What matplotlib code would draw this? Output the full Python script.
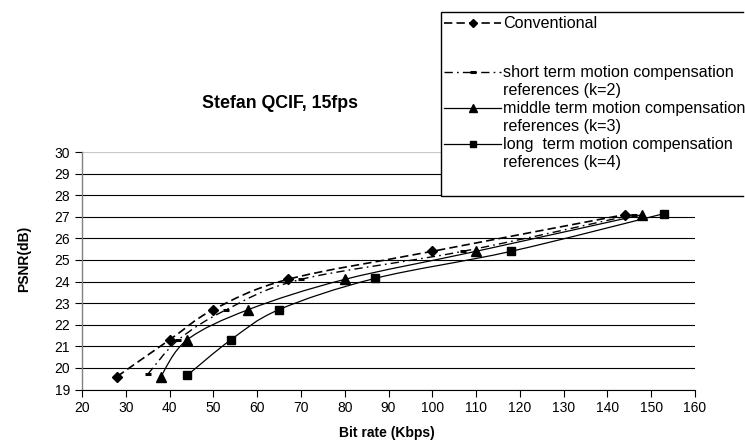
import numpy as np
import matplotlib
matplotlib.use('Agg')
import matplotlib.pyplot as plt
from matplotlib.path import Path
from matplotlib.patches import PathPatch, Rectangle

plt.rcParams['font.family'] = ['Liberation Sans', 'DejaVu Sans']
plt.rcParams['lines.scale_dashes'] = False

#%% data
conv_x = [28, 40, 50, 67, 100, 144]
conv_y = [19.6, 21.3, 22.7, 24.1, 25.4, 27.1]
short_x = [35, 42, 53, 70, 107, 146]
short_y = [19.7, 21.3, 22.7, 24.1, 25.4, 27.1]
mid_x = [38, 44, 58, 80, 110, 148]
mid_y = [19.6, 21.3, 22.7, 24.1, 25.4, 27.1]
long_x = [44, 54, 65, 87, 118, 153]
long_y = [19.65, 21.3, 22.7, 24.15, 25.4, 27.15]

labels = ['Conventional',
          'short term motion compensation\nreferences (k=2)',
          'middle term motion compensation\nreferences (k=3)',
          'long  term motion compensation\nreferences (k=4)']
xticks = np.arange(20, 161, 10)
yticks = np.arange(19, 31, 1)

dash_conv = (0, (6, 3))
dash_short = (0, (6, 3, 1.2, 3))


def smooth_path(xs, ys):
    # excel-like smoothed line through the points (bezier segments)
    pts = np.column_stack([xs, ys]).astype(float)
    n = len(pts)
    verts = [pts[0]]
    codes = [Path.MOVETO]
    for i in range(n - 1):
        p0 = pts[max(i - 1, 0)]
        p1 = pts[i]
        p2 = pts[i + 1]
        p3 = pts[min(i + 2, n - 1)]
        verts += [p1 + (p2 - p0) / 6, p2 - (p3 - p1) / 6, p2]
        codes += [Path.CURVE4] * 3
    return Path(verts, codes)


W, H = 745, 446
fig = plt.figure(figsize=(W / 100, H / 100), dpi=100)
ax = fig.add_axes([82 / W, 1 - 389.5 / H, (695 - 82) / W, (389.5 - 152) / H])

series = [(conv_x, conv_y, dash_conv, 1.2, 'D', 5.5),
          (short_x, short_y, dash_short, 1.0, '_', 5),
          (mid_x, mid_y, '-', 0.9, '^', 7),
          (long_x, long_y, '-', 0.9, 's', 5.5)]

for xs, ys, ls, lw, mk, ms in series:
    ax.add_patch(PathPatch(smooth_path(xs, ys), fill=False, edgecolor='black',
                           linestyle=ls, linewidth=lw, zorder=3))
    if mk == '_':
        ax.plot(xs, ys, linestyle='none', marker=mk, ms=ms, mew=2.2, color='black', zorder=4)
    else:
        ax.plot(xs, ys, linestyle='none', marker=mk, ms=ms, color='black', zorder=4)

ax.set_xlim(20, 160)
ax.set_ylim(19, 30)
ax.set_xticks(xticks)
ax.set_yticks(yticks)
ax.tick_params(labelsize=10, length=5, width=0.8, colors='black')
ax.yaxis.grid(True, color='black', linewidth=0.8)
ax.get_ygridlines()[-1].set_color('#c8c8c8')
ax.set_axisbelow(True)
for s in ['top', 'right']:
    ax.spines[s].set_visible(False)
ax.spines['left'].set_color('#808080')
ax.spines['bottom'].set_color('black')
ax.spines['left'].set_linewidth(1.0)
ax.spines['bottom'].set_linewidth(0.8)

#%% overlay in pixel coordinates: titles and legend
ov = fig.add_axes([0, 0, 1, 1])
ov.set_xlim(0, W)
ov.set_ylim(H, 0)
ov.axis('off')

ov.text(280, 103, 'Stefan QCIF, 15fps', ha='center', va='center', fontsize=12.8, fontweight='bold')
ov.text(387, 433, 'Bit rate (Kbps)', ha='center', va='center', fontsize=10, fontweight='bold')
ov.text(24, 259, 'PSNR(dB)', ha='center', va='center', fontsize=10, fontweight='bold', rotation=90)

# legend box: open on the right, it runs off the figure in the reference
ov.add_patch(Rectangle((441, 12), W - 441, 184, facecolor='white', edgecolor='none', zorder=5))
ov.plot([W - 2, 441, 441, W - 2], [12, 12, 196, 196], color='black', linewidth=1.0,
        solid_joinstyle='miter', zorder=6)

leg_y = [23, 72, 108, 144]
leg_ms = [4.5, 4, 5.5, 4.5]
for (xs, ys, ls, lw, mk, ms), lab, yy, lms in zip(series, labels, leg_y, leg_ms):
    ov.plot([444, 501], [yy, yy], linestyle=ls, linewidth=lw, color='black', zorder=6)
    if mk == '_':
        ov.plot([472.5], [yy], marker=mk, ms=lms, mew=2.2, color='black', zorder=7)
    else:
        ov.plot([472.5], [yy], marker=mk, ms=lms, color='black', zorder=7)
    lines = lab.split('\n')
    for k, t in enumerate(lines):
        ov.text(503, yy + k * 18.5, t, ha='left', va='center', fontsize=11.6, zorder=7)

fig.savefig('out.png', dpi=100)
